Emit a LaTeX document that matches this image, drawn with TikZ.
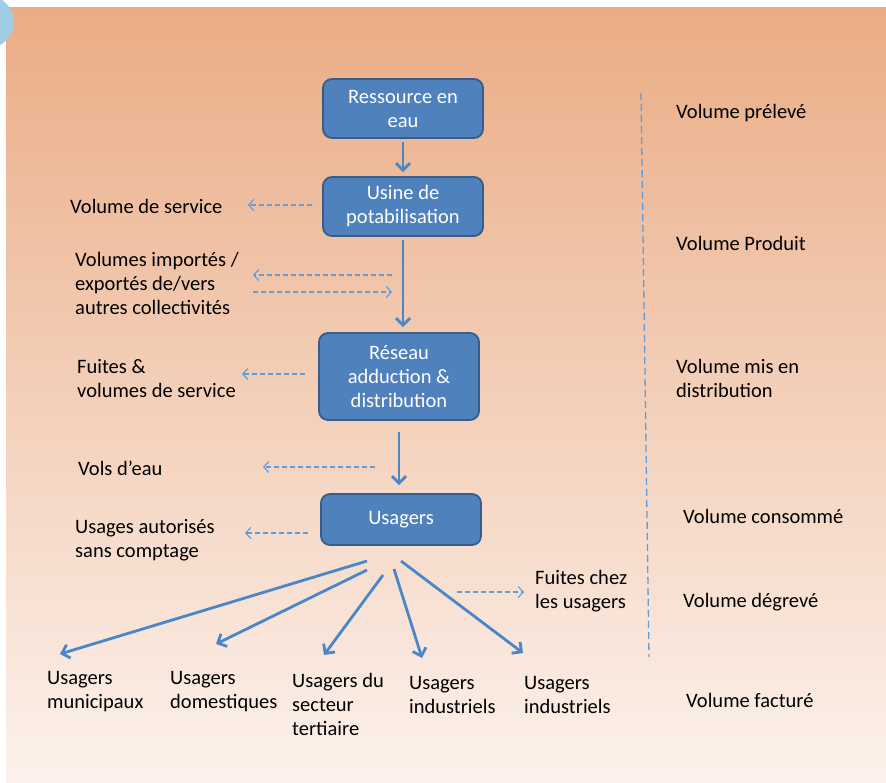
\documentclass[tikz,border=0pt]{standalone}
\usepackage{fontspec}
\setmainfont{Carlito}
\usetikzlibrary{arrows.meta}
\definecolor{boxfill}{RGB}{79,129,189}
\definecolor{boxdraw}{RGB}{56,93,138}
\definecolor{arrowc}{RGB}{74,134,200}
\definecolor{dashc}{RGB}{95,158,220}
\definecolor{bgtop}{RGB}{234,172,133}
\definecolor{bgbot}{RGB}{252,242,236}
\definecolor{globe}{RGB}{160,205,228}
\begin{document}
\begin{tikzpicture}[x=1pt,y=-1pt,
  every node/.style={font=\fontsize{20.5}{24}\selectfont},
  flowbox/.style={draw=boxdraw, line width=1.8pt, fill=boxfill, rounded corners=9pt,
    text=white, align=center, minimum width=160pt, inner sep=0pt},
  lbl/.style={anchor=west, align=left, inner sep=0pt, text=black},
  mainarrow/.style={draw=arrowc, line width=2.8pt, -{Straight Barb[length=7pt,width=14pt]}},
  dasharrow/.style={draw=dashc, line width=1.2pt, dash pattern=on 5pt off 3pt,
    -{Straight Barb[length=5pt,width=11pt]}},
  sepline/.style={draw=dashc, line width=1.3pt, dash pattern=on 7pt off 4pt}
]
\useasboundingbox (0,0) rectangle (886,782);
\fill[white] (0,0) rectangle (886,782);
\shade[top color=bgtop, bottom color=bgbot] (6,7) rectangle (886,782);
\begin{scope}
  \clip (0,0) rectangle (16,50);
  \fill[globe] (-12,22) circle (26);
\end{scope}

% flow boxes
\node[flowbox, minimum height=59pt] (res) at (403,108.5) {Ressource en\\eau};
\node[flowbox, minimum height=59pt] (usine) at (403,206.5) {Usine de\\potabilisation};
\node[flowbox, minimum height=87pt] (reseau) at (399,376.5) {Réseau\\adduction \&\\distribution};
\node[flowbox, minimum height=51pt] (usagers) at (401,519.5) {Usagers};

% left labels
\node[lbl] (vds) at (70,206) {Volume de service};
\node[lbl] (imp) at (75,283) {Volumes importés /\\exportés de/vers\\autres collectivités};
\node[lbl] (fui) at (77,379) {Fuites \&\\volumes de service};
\node[lbl] (vol) at (78,468) {Vols d’eau};
\node[lbl] (uas) at (75,540.5) {Usages autorisés\\sans comptage};
\node[lbl] (fc) at (535,591) {Fuites chez\\les usagers};

% bottom labels
\node[lbl] (mun) at (47,692) {Usagers\\municipaux};
\node[lbl] (dom) at (170,692) {Usagers\\domestiques};
\node[lbl] (ter) at (292,704) {Usagers du\\secteur\\tertiaire};
\node[lbl] (ind1) at (409,695) {Usagers\\industriels};
\node[lbl] (ind2) at (524,695) {Usagers\\industriels};

% right labels
\node[lbl] (vp) at (676,113) {Volume prélevé};
\node[lbl] (vpr) at (676,243) {Volume Produit};
\node[lbl] (vmd) at (676,378.5) {Volume mis en\\distribution};
\node[lbl] (vc) at (683,516) {Volume consommé};
\node[lbl] (vdg) at (683,602) {Volume dégrevé};
\node[lbl] (vf) at (686,700) {Volume facturé};

% separator
\coordinate (sepTop) at (641,93);
\coordinate (sepBot) at (649,657);
\draw[sepline] (sepTop) -- (sepBot);

% main arrows
\draw[mainarrow, shorten <=3pt, shorten >=4pt] (res.south) -- (usine.north);
\draw[mainarrow, shorten <=3pt, shorten >=5pt] (usine.south) -- (usine.south |- reseau.north);
\draw[mainarrow, shorten <=11pt, shorten >=8pt] (reseau.south) -- (reseau.south |- usagers.north);

% dashed arrows
\coordinate (vdsTip) at (248,205);
\draw[dasharrow, shorten <=10pt] (usine.west |- vdsTip) -- (vdsTip);
\coordinate (impTip) at (253,275);
\coordinate (expY) at (253,292);
\draw[dasharrow, shorten <=11pt] (usine.south |- impTip) -- (impTip);
\draw[dasharrow, shorten >=11pt] (expY) -- (usine.south |- expY);
\coordinate (fuiTip) at (242,374);
\draw[dasharrow, shorten <=13pt] (reseau.west |- fuiTip) -- (fuiTip);
\coordinate (volTip) at (263,467);
\draw[dasharrow, shorten <=24pt] (reseau.south |- volTip) -- (volTip);
\coordinate (uasTip) at (245,533);
\draw[dasharrow, shorten <=12pt] (usagers.west |- uasTip) -- (uasTip);
\coordinate (fcStart) at (457,592);
\draw[dasharrow, shorten >=11pt] (fcStart) -- (fcStart -| fc.west);

% fan arrows
\coordinate (s1) at (367,561);
\coordinate (s2) at (367,570);
\coordinate (s3) at (383,575);
\coordinate (s4) at (394,569);
\coordinate (s5) at (401,561);
\coordinate (t1) at (60,654);
\coordinate (t2) at (216,644);
\coordinate (t3) at (324,655);
\coordinate (t4) at (422,658);
\coordinate (t5) at (523,653);
\draw[mainarrow] (s1) -- (t1);
\draw[mainarrow] (s2) -- (t2);
\draw[mainarrow] (s3) -- (t3);
\draw[mainarrow] (s4) -- (t4);
\draw[mainarrow] (s5) -- (t5);
\end{tikzpicture}
\end{document}
